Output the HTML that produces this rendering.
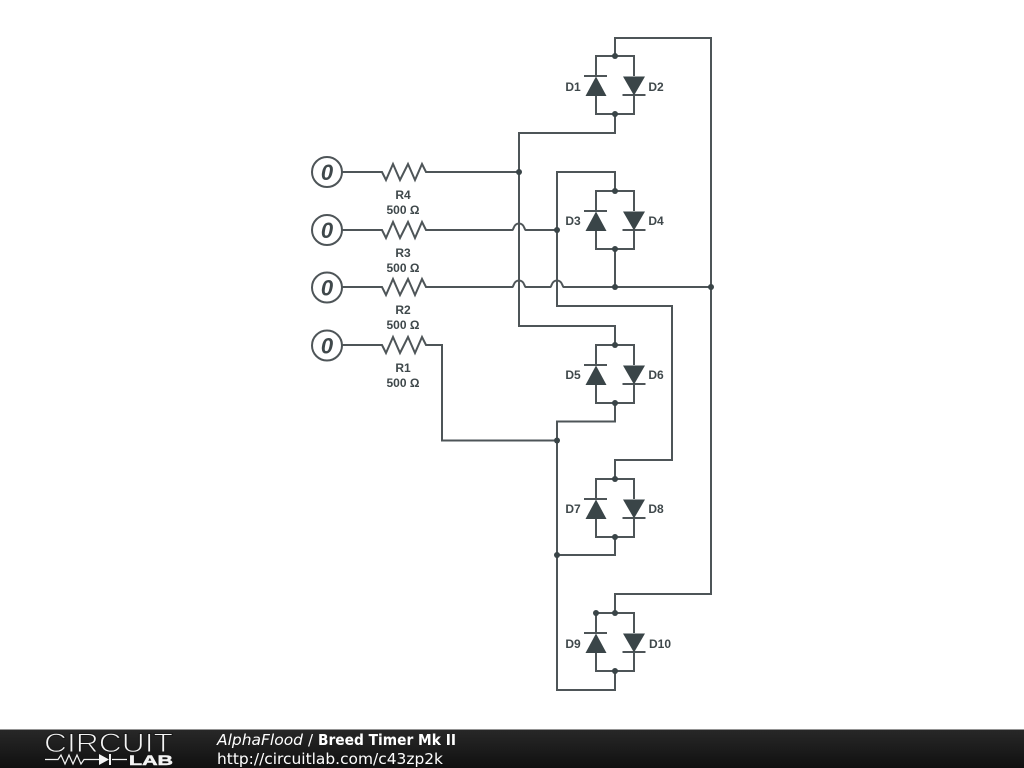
<!DOCTYPE html>
<html><head><meta charset="utf-8"><style>
html,body{margin:0;padding:0;background:#fff}
svg{display:block}
.w{fill:none;stroke:#4e5558;stroke-width:2}
.l{font:bold 12px "Liberation Sans",sans-serif;fill:#3f484b;text-anchor:middle}
.z{font:italic bold 22px "Liberation Sans",sans-serif;fill:#3f484b;text-anchor:middle}
.t{fill:#3a4548}
.d{fill:#3a4548}
.f{font-family:"DejaVu Sans",sans-serif;font-size:15px;fill:#fff}
</style></head><body>
<svg width="1024" height="768" viewBox="0 0 1024 768" xmlns="http://www.w3.org/2000/svg">
<defs>
<linearGradient id="g" x1="0" y1="0" x2="0" y2="1"><stop offset="0" stop-color="#282828"/><stop offset="1" stop-color="#101010"/></linearGradient>
</defs>
<rect width="1024" height="768" fill="#fff"/>

<!-- wires -->
<path class="w" d="M615 56V38H711V594H615V613"/>
<path class="w" d="M615 114V133H519V326H615V345"/>
<path class="w" d="M342 172H382L386 180L393 164L400 180L408 164L415 180L422 164L426 172H519"/>
<path class="w" d="M342 230H382L386 238L393 222L400 238L408 222L415 238L422 222L426 230H512.500C513.500 230 513.500 223.500 519 223.500C524.500 223.500 524.500 230 525.500 230H557"/>
<path class="w" d="M342 287H382L386 295L393 279L400 295L408 279L415 295L422 279L426 287H512.500C513.500 287 513.500 280.500 519 280.500C524.500 280.500 524.500 287 525.500 287H550.500C551.500 287 551.500 280.500 557 280.500C562.500 280.500 562.500 287 563.500 287H711"/>
<path class="w" d="M342 345H382L386 353L393 337L400 353L408 337L415 353L422 337L426 345H442V440.500H557"/>
<path class="w" d="M615 191V172H557V306H672V460H615V479"/>
<path class="w" d="M615 249V287"/>
<path class="w" d="M615 403V421.500H557V690H615V671"/>
<path class="w" d="M615 537V555H557"/>

<!-- diode pairs -->
<g id="p1">
<path class="w" d="M596 95V114H634V95M596 76V56H634V76"/>
<path class="w" d="M584 76H607M622.500 95H645.500"/>
<path class="t" d="M596 76.500L606.500 96H585.500Z"/>
<path class="t" d="M623 76.500H645L634 95.500Z"/>
<circle class="d" cx="615" cy="56" r="3"/><circle class="d" cx="615" cy="114" r="3"/>
</g>
<g transform="translate(0,135)">
<path class="w" d="M596 95V114H634V95M596 76V56H634V76"/>
<path class="w" d="M584 76H607M622.500 95H645.500"/>
<path class="t" d="M596 76.500L606.500 96H585.500Z"/>
<path class="t" d="M623 76.500H645L634 95.500Z"/>
<circle class="d" cx="615" cy="56" r="3"/><circle class="d" cx="615" cy="114" r="3"/>
</g>
<g transform="translate(0,289)">
<path class="w" d="M596 95V114H634V95M596 76V56H634V76"/>
<path class="w" d="M584 76H607M622.500 95H645.500"/>
<path class="t" d="M596 76.500L606.500 96H585.500Z"/>
<path class="t" d="M623 76.500H645L634 95.500Z"/>
<circle class="d" cx="615" cy="56" r="3"/><circle class="d" cx="615" cy="114" r="3"/>
</g>
<g transform="translate(0,423)">
<path class="w" d="M596 95V114H634V95M596 76V56H634V76"/>
<path class="w" d="M584 76H607M622.500 95H645.500"/>
<path class="t" d="M596 76.500L606.500 96H585.500Z"/>
<path class="t" d="M623 76.500H645L634 95.500Z"/>
<circle class="d" cx="615" cy="56" r="3"/><circle class="d" cx="615" cy="114" r="3"/>
</g>
<g transform="translate(0,557)">
<path class="w" d="M596 95V114H634V95M596 76V56H634V76"/>
<path class="w" d="M584 76H607M622.500 95H645.500"/>
<path class="t" d="M596 76.500L606.500 96H585.500Z"/>
<path class="t" d="M623 76.500H645L634 95.500Z"/>
<circle class="d" cx="615" cy="56" r="3"/><circle class="d" cx="615" cy="114" r="3"/>
<circle class="d" cx="596" cy="56" r="3"/>
</g>

<!-- junctions -->
<circle class="d" cx="519" cy="172" r="3"/>
<circle class="d" cx="557" cy="230" r="3"/>
<circle class="d" cx="615" cy="287" r="3"/>
<circle class="d" cx="711" cy="287" r="3"/>
<circle class="d" cx="557" cy="440.500" r="3"/>
<circle class="d" cx="557" cy="555" r="3"/>

<!-- sources -->
<g fill="#fff" stroke="#4e5558" stroke-width="2">
<circle cx="327" cy="172" r="15"/><circle cx="327" cy="230" r="15"/><circle cx="327" cy="287.500" r="15"/><circle cx="327" cy="345.500" r="15"/>
</g>
<text class="z" x="327" y="180">0</text>
<text class="z" x="327" y="238">0</text>
<text class="z" x="327" y="295.500">0</text>
<text class="z" x="327" y="353.500">0</text>

<!-- labels -->
<text class="l" x="403" y="199">R4</text><text class="l" x="403" y="214">500 Ω</text>
<text class="l" x="403" y="257">R3</text><text class="l" x="403" y="272">500 Ω</text>
<text class="l" x="403" y="314">R2</text><text class="l" x="403" y="329">500 Ω</text>
<text class="l" x="403" y="372">R1</text><text class="l" x="403" y="387">500 Ω</text>
<text class="l" x="573" y="91">D1</text><text class="l" x="656" y="91">D2</text>
<text class="l" x="573" y="225">D3</text><text class="l" x="656" y="225">D4</text>
<text class="l" x="573" y="379">D5</text><text class="l" x="656" y="379">D6</text>
<text class="l" x="573" y="513">D7</text><text class="l" x="656" y="513">D8</text>
<text class="l" x="573" y="648">D9</text><text class="l" x="660" y="648">D10</text>

<!-- footer -->
<rect y="729.500" width="1024" height="38.500" fill="url(#g)"/>
<text x="44" y="752" font-family="'Liberation Sans',sans-serif" font-size="27" fill="#f4f4f4" stroke="#1a1a1a" stroke-width="1" textLength="129" lengthAdjust="spacingAndGlyphs">CIRCUIT</text>
<path d="M45 759.500H58L61 755L65 764L69 755L73 764L77 755L81 764L84 759.500H99M112 759.500H127" fill="none" stroke="#f4f4f4" stroke-width="1.200"/>
<path d="M99 754L109 759.500L99 765Z" fill="#f4f4f4"/>
<path d="M110 754V765" stroke="#f4f4f4" stroke-width="2"/>
<text x="129" y="765" font-family="'Liberation Sans',sans-serif" font-weight="bold" font-size="14" fill="#f4f4f4" stroke="#f4f4f4" stroke-width=".5" textLength="44" lengthAdjust="spacingAndGlyphs">LAB</text>
<text class="f" x="217" y="745" font-style="italic" textLength="86" lengthAdjust="spacingAndGlyphs">AlphaFlood</text>
<text class="f" x="308" y="745">/</text>
<text class="f" x="318" y="745" font-weight="bold" textLength="138" lengthAdjust="spacingAndGlyphs">Breed Timer Mk II</text>
<text class="f" x="217" y="764" textLength="226" lengthAdjust="spacingAndGlyphs">http://circuitlab.com/c43zp2k</text>
</svg>
</body></html>
